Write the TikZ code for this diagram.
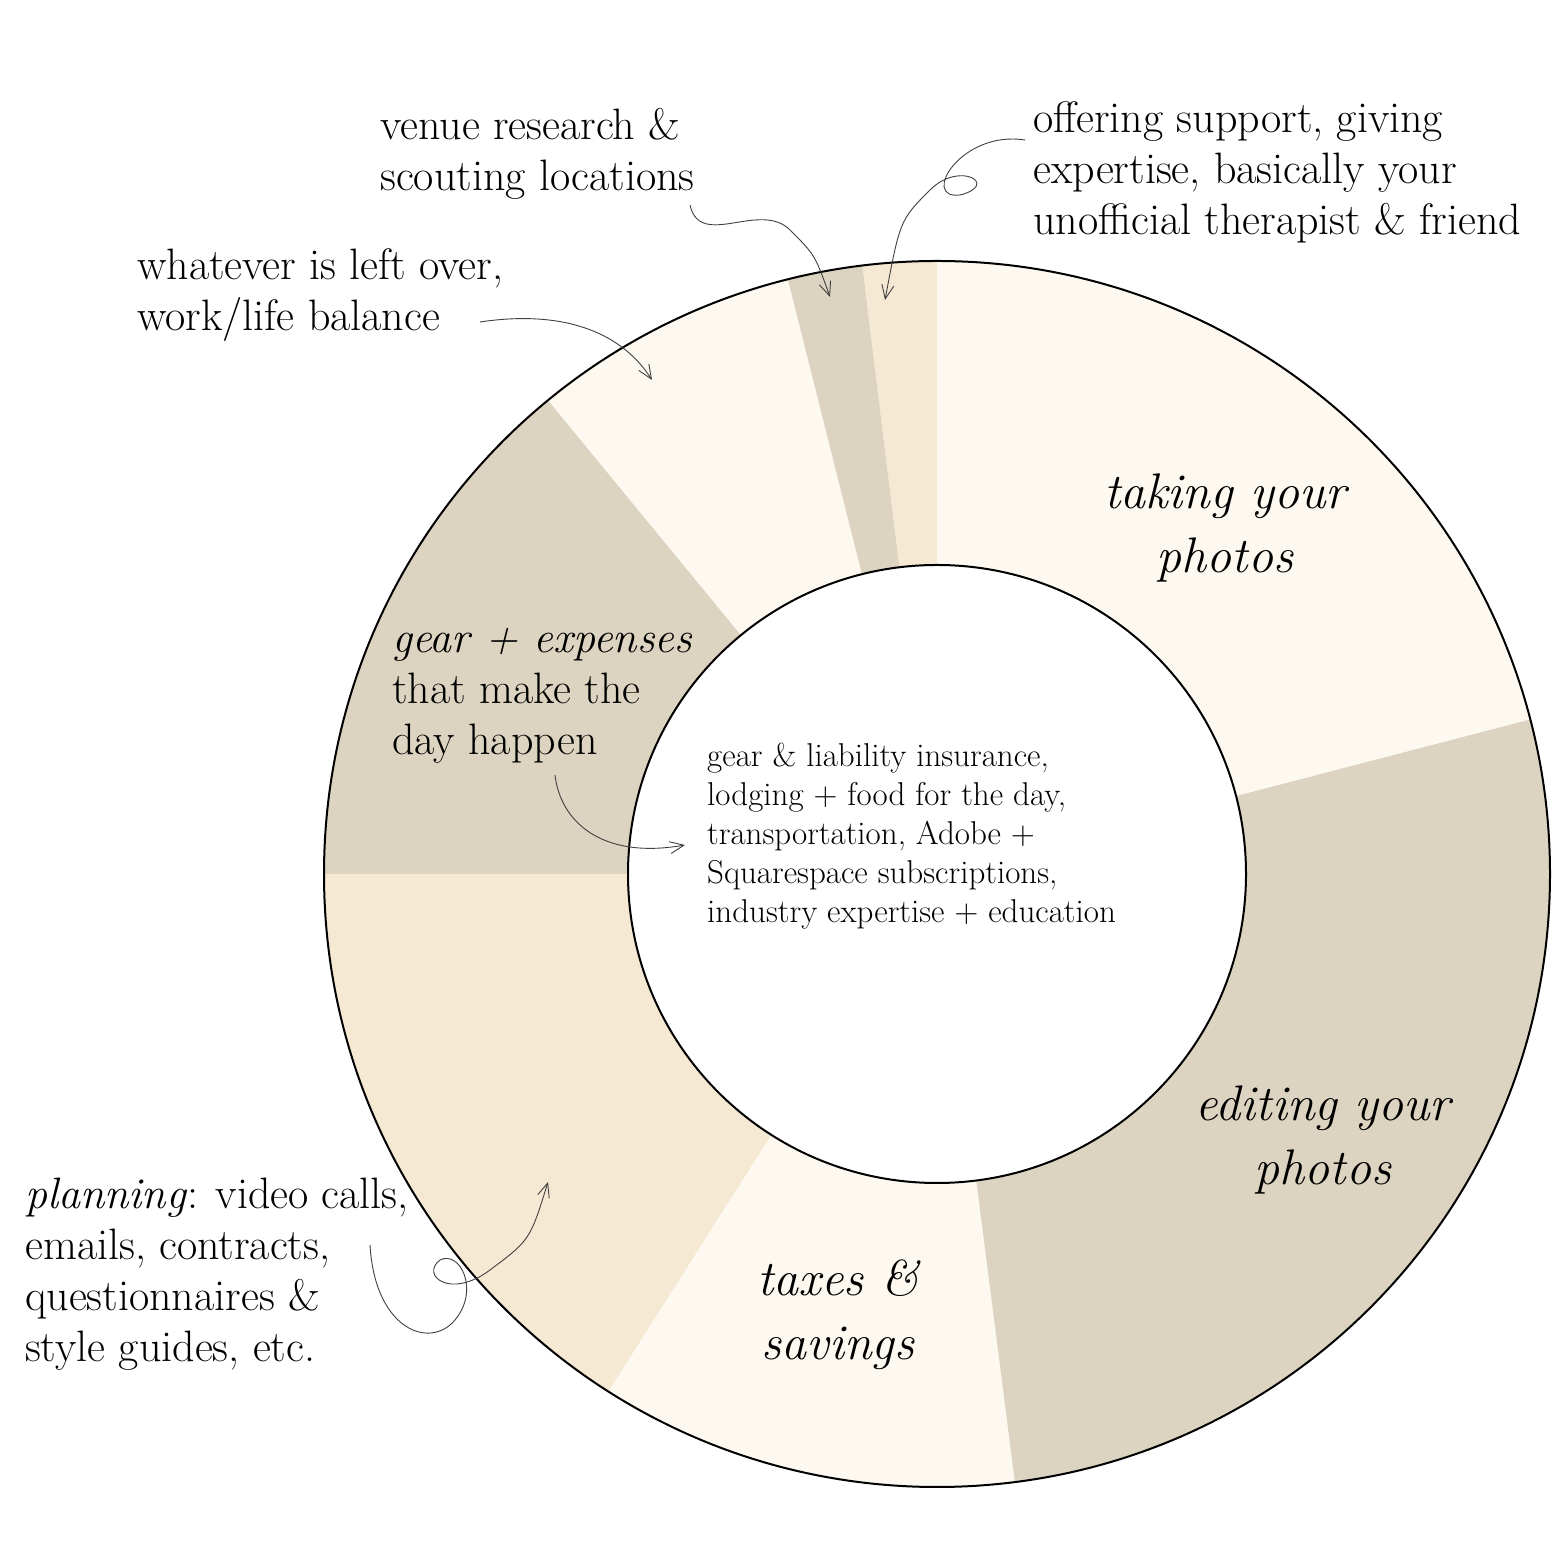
\documentclass[tikz,border=0pt]{standalone}
\usetikzlibrary{arrows.meta}
\definecolor{cream}{HTML}{FDF9F0}
\definecolor{tan}{HTML}{DCD3C0}
\definecolor{beige}{HTML}{F5E9D4}
\tikzset{
  lbl/.style={anchor=north west,align=left,inner sep=0pt,font=\fontsize{44}{51}\selectfont},
  big/.style={align=center,inner sep=0pt,font=\fontsize{50}{64}\selectfont\itshape},
  note/.style={draw=black!75,line width=0.9pt,-{Straight Barb[length=14pt,width=12pt]}}
}
\newcommand{\sector}[3]{\fill[#1] (937,689) -- ++(#2:613pt) arc[start angle=#2,end angle=#3,radius=613pt] -- cycle;}
\begin{document}
\begin{tikzpicture}[x=1pt,y=1pt]
\useasboundingbox (0,0) rectangle (1563,1563);
\fill[white] (0,0) rectangle (1563,1563);
\coordinate (c) at (937,689);
\sector{cream}{14.6}{90}
\sector{beige}{90}{97}
\sector{tan}{97}{104.1}
\sector{cream}{104.1}{129.4}
\sector{tan}{129.4}{180}
\sector{beige}{180}{237.6}
\sector{cream}{237.6}{277.3}
\sector{tan}{277.3}{374.6}
\draw[line width=2pt] (c) circle[radius=613pt];
\filldraw[fill=white,line width=2pt] (c) circle[radius=309pt];

\node[lbl] (venue) at (380,1455) {venue research \&\\scouting locations};
\node[lbl] (offer) at (1033,1462) {offering support, giving\\expertise, basically your\\unofficial therapist \& friend};
\node[lbl] (left) at (137,1315) {whatever is left over,\\work/life balance};
\node[lbl] (gear) at (392,935) {\textit{gear + expenses}\\that make the\\day happen};
\node[lbl,font=\fontsize{33}{39}\selectfont] (center) at (707,820) {gear \& liability insurance,\\lodging + food for the day,\\transportation, Adobe +\\Squarespace subscriptions,\\industry expertise + education};
\node[lbl] (plan) at (25,385) {\textit{planning}: video calls,\\emails, contracts,\\questionnaires \&\\style guides, etc.};
\node[big] (take) at (1225,1035) {taking your\\photos};
\node[big] (edit) at (1323,423) {editing your\\photos};
\node[big] (tax) at (838,248) {taxes \&\\savings};

\draw[note] (690,1358) .. controls (700,1313) and (760,1363) .. (790,1333) .. controls (815,1308) .. (830,1266);
\draw[note] (1025,1423) .. controls (960,1433) and (920,1363) .. (960,1368) .. controls (1000,1378) and (960,1403) .. (930,1373) .. controls (900,1343) .. (885,1263);
\draw[note] (480,1241) .. controls (560,1253) and (620,1233) .. (652,1183);
\draw[note] (555,788) .. controls (560,743) and (600,703) .. (685,718);
\draw[note] (370,318) .. controls (375,233) and (430,213) .. (455,243) .. controls (480,273) and (460,313) .. (440,303) .. controls (420,288) and (450,263) .. (490,293) .. controls (530,323) .. (548,381);
\end{tikzpicture}
\end{document}
